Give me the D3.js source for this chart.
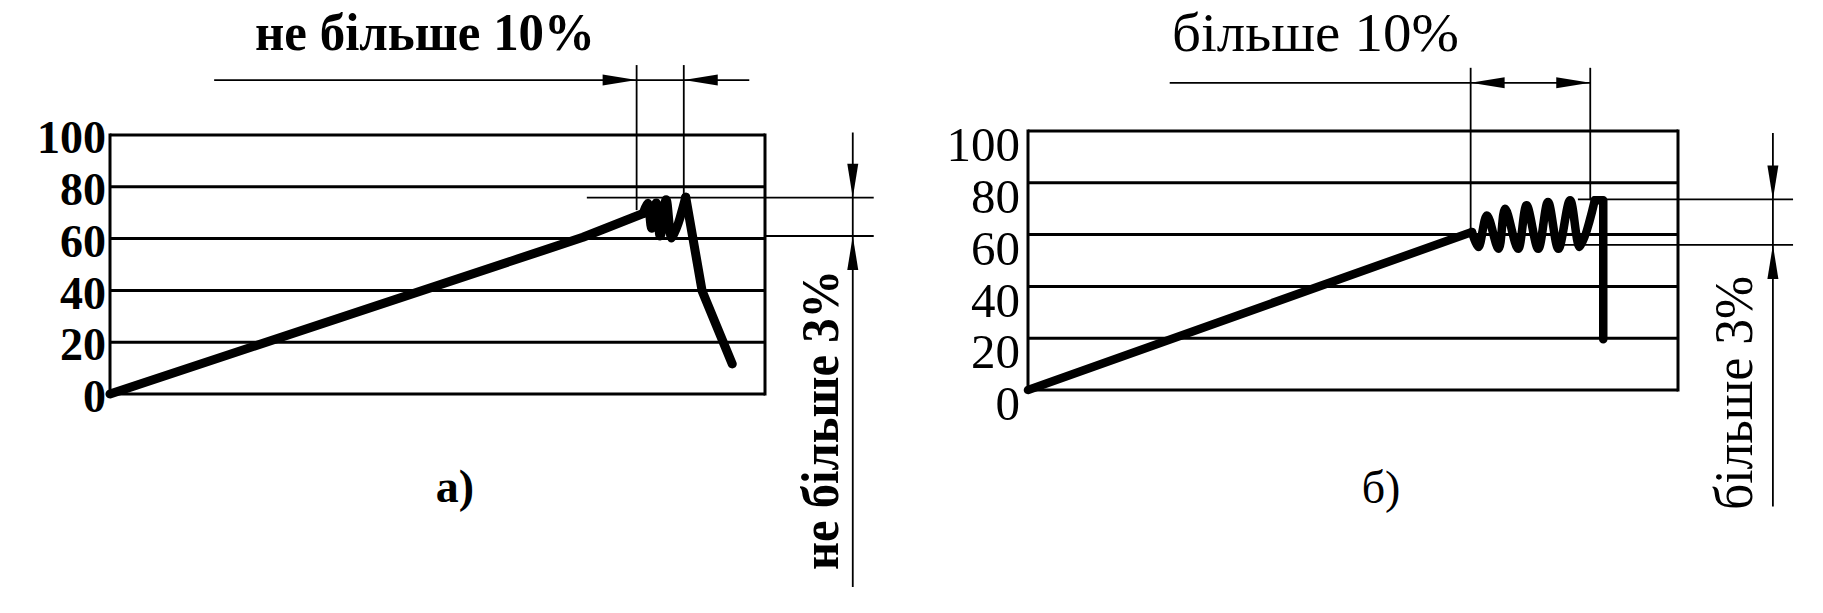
<!DOCTYPE html>
<html><head><meta charset="utf-8">
<script src="https://cdn.jsdelivr.net/npm/d3@7"></script>
<style>html,body{margin:0;padding:0;background:#fff;}svg{display:block;}</style>
</head><body>
<svg id="c" width="1823" height="613"></svg>
<script>
// ---- data ----
const yTicks = [0, 20, 40, 60, 80, 100];
// panel а): x in % of test length, y in % of load
const curveA_main = [[0, 0], [72.2, 60.5], [81.4, 69.7]];
const curveA_zig = [[81.4, 69.7], [82.1, 73.7], [82.7, 64], [83.4, 73.7], [84.0, 61], [84.9, 75], [85.8, 60.2], [87.9, 76]];
const curveA_drop = [[87.9, 76], [90.4, 39.8], [95, 11.6]];
// panel б)
const curveB_main = [[0, 0], [68.3, 61]];
const curveB_zig = [[68.3, 61], [69.3, 55.2], [70.6, 67.4], [72.4, 54.5], [73.4, 70], [75.4, 54.5], [76.7, 71.3], [78.5, 54.5], [80.0, 72.6], [81.6, 54.5], [83.4, 73.3], [84.9, 55.2], [87.2, 73.3]];
const curveB_drop = [[87.2, 73.3], [88.5, 73.3], [88.5, 19.6]];
// dimension annotations (data units)
const dimA_xExt = [80.4, 87.6];      // vertical extension lines x
const dimA_xExtEnd = [71, 76];       // where they meet the curve
const dimA_vExt = [75.8, 61];        // horizontal extension lines
const dimB_xExt = [68.1, 86.5];
const dimB_xExtEnd = [61, 73.3];
const dimB_vExt = [73.6, 56];
const labelsTop = ["не більше 10%", "більше 10%"];
const labelsSide = ["не більше 3%", "більше 3%"];
const panelNames = ["а)", "б)"];

const svg = d3.select("#c");
svg.append("rect").attr("width", 1823).attr("height", 613).attr("fill", "#fff");

function panel(opt) {
  const g = svg.append("g");
  const x = d3.scaleLinear().domain([0, 100]).range(opt.xr);
  const y = d3.scaleLinear().domain([0, 100]).range(opt.yr);
  // grid lines
  g.selectAll("line.grid").data(yTicks).join("line")
    .attr("x1", x(0)).attr("x2", x(100))
    .attr("y1", d => y(d)).attr("y2", d => y(d))
    .attr("stroke", "#000").attr("stroke-width", 3);
  // frame verticals
  [0, 100].forEach(v => g.append("line").attr("x1", x(v)).attr("x2", x(v))
    .attr("y1", y(0) + 1.5).attr("y2", y(100) - 1.5).attr("stroke", "#000").attr("stroke-width", 3));
  // axis labels
  const ax = d3.axisLeft(y).tickValues(yTicks).tickSize(0).tickPadding(0);
  const axg = g.append("g").attr("transform", `translate(${opt.labelX},${opt.labelDy})`).call(ax);
  axg.select(".domain").remove();
  axg.selectAll("text").attr("font-family", "'Liberation Serif', 'Times New Roman', serif")
    .attr("font-size", opt.tickFont).attr("font-weight", opt.weight).attr("fill", "#000")
    .attr("dy", "0.34em");
  // curve
  const lin = d3.line().x(d => x(d[0])).y(d => y(d[1]));
  const sm = d3.line().x(d => x(d[0])).y(d => y(d[1])).curve(d3.curveCatmullRom.alpha(0.5));
  [[opt.main, lin], [opt.zig, sm], [opt.drop, lin]].forEach(([data, gen]) => {
    g.append("path").attr("d", gen(data)).attr("fill", "none").attr("stroke", "#000")
      .attr("stroke-width", opt.curveW).attr("stroke-linejoin", "round").attr("stroke-linecap", "round");
  });
  const thin = (x1, y1, x2, y2) => g.append("line").attr("x1", x1).attr("y1", y1).attr("x2", x2).attr("y2", y2)
    .attr("stroke", "#000").attr("stroke-width", 1.8);
  const arrow = (tx, ty, dir) => { // direction the arrow points
    const L = 34, W = 5.5;
    let pts;
    if (dir === 'r') pts = [[tx, ty], [tx - L, ty - W], [tx - L, ty + W]];
    if (dir === 'l') pts = [[tx, ty], [tx + L, ty - W], [tx + L, ty + W]];
    if (dir === 'd') pts = [[tx, ty], [tx - W, ty - L], [tx + W, ty - L]];
    if (dir === 'u') pts = [[tx, ty], [tx - W, ty + L], [tx + W, ty + L]];
    g.append("path").attr("d", "M" + pts.join("L") + "Z").attr("fill", "#000");
  };
  // vertical extension lines from top dimension
  opt.xExt.forEach((xv, i) => thin(x(xv), y(opt.vTopExt), x(xv), y(opt.xExtEnd[i])));
  // horizontal top dimension line
  thin(x(opt.hLine[0]), y(opt.hV), x(opt.hLine[1]), y(opt.hV));
  opt.hArrows.forEach(a => arrow(x(a[0]), y(opt.hV), a[1]));
  // horizontal extension lines at right
  thin(x(opt.extTopFrom), y(opt.vExt[0]), x(opt.extTo), y(opt.vExt[0]));
  thin(x(opt.extBotFrom), y(opt.vExt[1]), x(opt.extTo), y(opt.vExt[1]));
  // vertical dimension line
  thin(x(opt.vdX), y(opt.vdRange[0]), x(opt.vdX), y(opt.vdRange[1]));
  arrow(x(opt.vdX), y(opt.vExt[0]), 'd');
  arrow(x(opt.vdX), y(opt.vExt[1]), 'u');
  // texts
  const ff = "'Liberation Serif', 'Times New Roman', serif";
  g.append("text").attr("x", opt.topText[0]).attr("y", opt.topText[1]).text(opt.topLabel)
    .attr("font-family", ff).attr("font-size", opt.topFont).attr("font-weight", opt.weight)
    .attr("textLength", opt.topLen).attr("lengthAdjust", "spacingAndGlyphs");
  g.append("text").attr("transform", `translate(${opt.sideText[0]},${opt.sideText[1]}) rotate(-90)`)
    .text(opt.sideLabel).attr("font-family", ff).attr("font-size", opt.sideFont).attr("font-weight", opt.weight)
    .attr("textLength", opt.sideLen).attr("lengthAdjust", "spacingAndGlyphs");
  g.append("text").attr("x", opt.name[0]).attr("y", opt.name[1]).attr("text-anchor", "middle").text(opt.nameLabel)
    .attr("font-family", ff).attr("font-size", 46).attr("font-weight", opt.weight);
}

panel({
  xr: [110, 765], yr: [394, 135], labelX: 106, labelDy: 2, tickFont: 46, weight: "bold", curveW: 9,
  main: curveA_main, zig: curveA_zig, drop: curveA_drop,
  xExt: dimA_xExt, xExtEnd: dimA_xExtEnd, vTopExt: 127,
  hLine: [15.9, 97.6], hV: 121.2, hArrows: [[dimA_xExt[0], 'r'], [dimA_xExt[1], 'l']],
  vExt: dimA_vExt, extTopFrom: 72.8, extBotFrom: 100, extTo: 116.6,
  vdX: 113.4, vdRange: [101, -74.5],
  topLabel: labelsTop[0], topText: [255, 50], topFont: 52, topLen: 340,
  sideLabel: labelsSide[0], sideText: [838, 570], sideFont: 52, sideLen: 300,
  nameLabel: panelNames[0], name: [455, 502]
});
panel({
  xr: [1028, 1678], yr: [390, 131], labelX: 1020, labelDy: 13, tickFont: 49, weight: "normal", curveW: 8.5,
  main: curveB_main, zig: curveB_zig, drop: curveB_drop,
  xExt: dimB_xExt, xExtEnd: dimB_xExtEnd, vTopExt: 124.4,
  hLine: [21.8, 86.5], hV: 118.6, hArrows: [[dimB_xExt[0], 'l'], [dimB_xExt[1], 'r']],
  vExt: dimB_vExt, extTopFrom: 84.6, extBotFrom: 82.3, extTo: 117.7,
  vdX: 114.6, vdRange: [99.2, -45],
  topLabel: labelsTop[1], topText: [1172, 51], topFont: 55, topLen: 287,
  sideLabel: labelsSide[1], sideText: [1752, 510], sideFont: 54, sideLen: 234,
  nameLabel: panelNames[1], name: [1381, 503]
});
</script>
</body></html>
